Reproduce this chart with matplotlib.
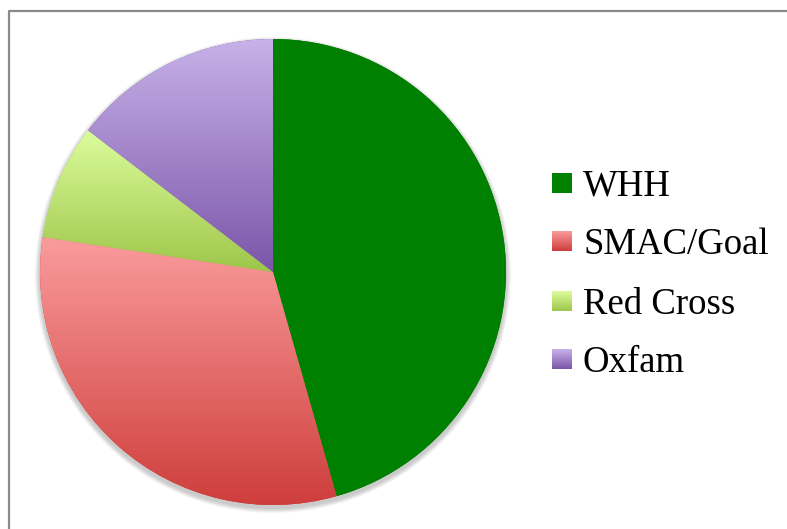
import numpy as np
import matplotlib
matplotlib.use('Agg')
import matplotlib.pyplot as plt
from matplotlib.colors import LinearSegmentedColormap
from matplotlib.patches import Rectangle, Circle

# data (shares in percent)
labels = ['WHH', 'SMAC/Goal', 'Red Cross', 'Oxfam']
shares = [45.6, 31.8, 8.0, 14.6]

# vertical gradients, top colour -> bottom colour
top_colors = ['#008000', '#FA9C9C', '#DCFC9C', '#C7B2E9']
bot_colors = ['#008000', '#CE3E3C', '#9EC64A', '#7C56A9']

W, H = 787, 529
fig = plt.figure(figsize=(W / 100, H / 100), dpi=100)
ax = fig.add_axes([0, 0, 1, 1])

# outer frame (only top and left edges are visible in the picture)
ax.plot([8.5, 8.5, W + 5], [-5, H - 10.5, H - 10.5], color='#8a8a8a', lw=1.6,
        solid_capstyle='butt', zorder=0)

cx, cy, rad = 273, H - 272, 233

# soft shadow under the pie
for k in range(6):
    ax.add_patch(Circle((cx, cy - 3), rad + 1 + k * 0.8, facecolor='#000000',
                        edgecolor='none', alpha=0.035, zorder=1))

wedges, _ = ax.pie(shares, center=(cx, cy), radius=rad, startangle=90,
                   counterclock=False, colors=bot_colors,
                   wedgeprops=dict(linewidth=0, zorder=2), frame=True)


def gradient(c_top, c_bot):
    cmap = LinearSegmentedColormap.from_list('g', [c_bot, c_top])
    return cmap(np.linspace(0, 1, 256)[:, None])


for w, ct, cb in zip(wedges, top_colors, bot_colors):
    ext = w.get_path().get_extents()
    im = ax.imshow(gradient(ct, cb), extent=[ext.x0, ext.x1, ext.y0, ext.y1],
                   origin='lower', aspect='auto', interpolation='bilinear',
                   zorder=3)
    im.set_clip_path(w)

# legend with gradient markers
baselines = [196, 254, 314, 372]
for lab, ct, cb, yb in zip(labels, top_colors, bot_colors, baselines):
    y0 = H - yb + 3
    sq = Rectangle((552, y0), 20, 20, facecolor='none', edgecolor='none')
    ax.add_patch(sq)
    im = ax.imshow(gradient(ct, cb), extent=[552, 572, y0, y0 + 20],
                   origin='lower', aspect='auto', interpolation='bilinear',
                   zorder=3)
    im.set_clip_path(sq)
    ax.text(583, H - yb, lab, fontsize=26.5, family='Liberation Serif',
            va='baseline', ha='left', color='black')

ax.set_xlim(0, W)
ax.set_ylim(0, H)
ax.set_aspect('auto')
ax.axis('off')
fig.savefig('out.png', dpi=100)
